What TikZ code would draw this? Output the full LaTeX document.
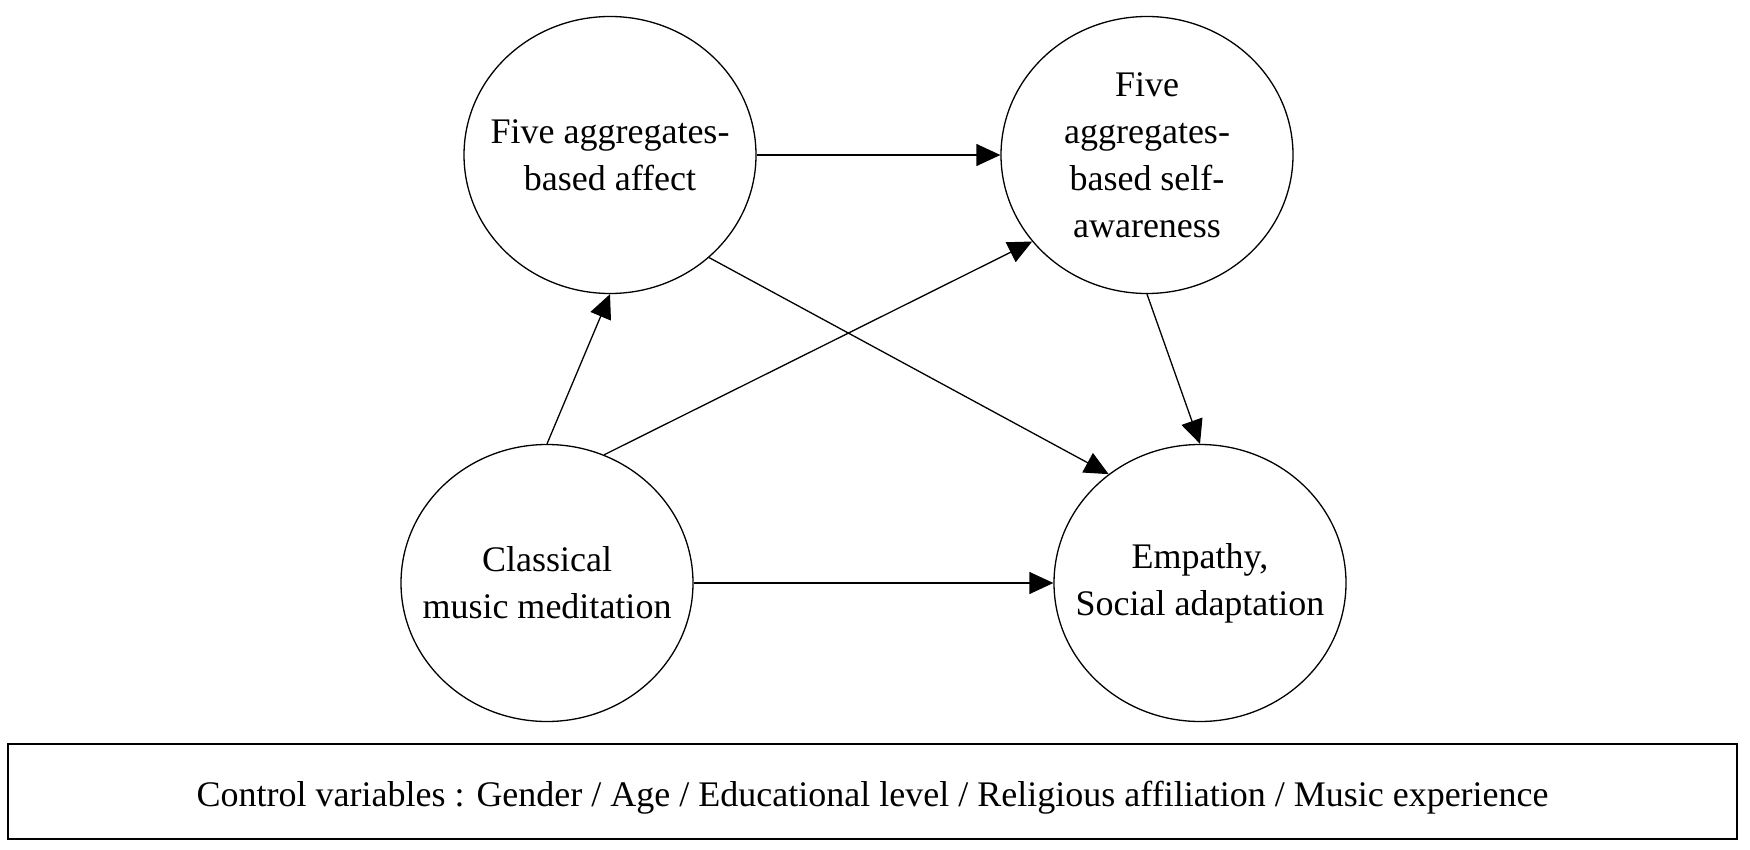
\documentclass[tikz,border=0pt]{standalone}
\usepackage{fontspec}
\setmainfont{Liberation Serif}
\usetikzlibrary{positioning, arrows.meta, shapes.geometric}

\begin{document}
\begin{tikzpicture}[x=0.5pt, y=-0.5pt,
    var/.style={ellipse, draw, line width=0.65pt, minimum width=146pt, minimum height=138.5pt, inner sep=0pt},
    vartext/.style={align=center, inner sep=0pt, font=\fontsize{18}{23.5}\selectfont},
    link/.style={-{Triangle[length=12pt, width=11pt]}, line width=0.65pt}]
    \useasboundingbox (0, 0) rectangle (1750, 850);

    \node[var, label={[vartext]center:Five aggregates-\\based affect}] (affect) at (610, 155) {};
    \node[var, label={[vartext]center:Five\\aggregates-\\based self-\\awareness}] (self) at (1147, 155) {};
    \node[var, label={[vartext]center:Classical\\music meditation}] (music) at (547, 583) {};
    \node[var, label={[vartext]center:Empathy,\\Social adaptation}] (empathy) at (1200, 583) {};
    \node[draw, line width=0.8pt, minimum width=864.5pt, minimum height=47.5pt, inner sep=0pt, label={[vartext, yshift=-3pt]center:Control variables : Gender / Age / Educational level / Religious affiliation / Music experience}] (control) at (872.5, 791.5) {};

    \draw[link] (affect) -- (self);
    \draw[link] (music.north) -- (affect.south);
    \draw[link] (music.66) -- (self.217);
    \draw[link] (affect.-46) -- (empathy.130);
    \draw[link] (self.south) -- (empathy.north);
    \draw[link] (music) -- (empathy);
\end{tikzpicture}
\end{document}
